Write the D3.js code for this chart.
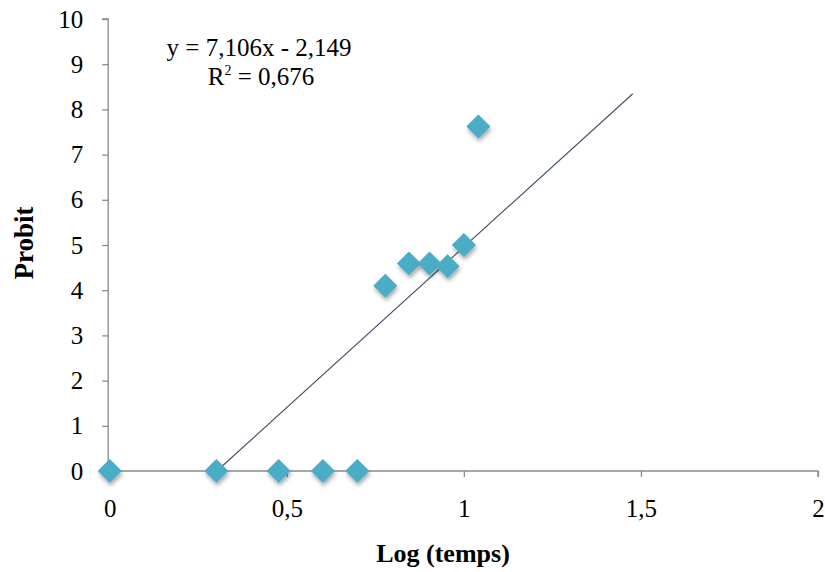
<!DOCTYPE html>
<html>
<head>
<meta charset="utf-8">
<script src="https://cdn.jsdelivr.net/npm/d3@7"></script>
<style>
  body { margin: 0; background: #fff; }
  svg text { font-family: "Liberation Serif", "DejaVu Serif", serif; }
</style>
</head>
<body>
<div id="chart"></div>
<script>
// log(time) and probit values
const logTemps = [0, 0.301, 0.477, 0.602, 0.699, 0.778, 0.845, 0.903, 0.954, 1.0, 1.041];
const probits = [0, 0, 0, 0, 0, 4.1, 4.59, 4.59, 4.53, 5.0, 7.62];
const xTicks = [0, 0.5, 1, 1.5, 2];
const yTicks = [0, 1, 2, 3, 4, 5, 6, 7, 8, 9, 10];
const slope = 7.106, intercept = -2.149;
const trendEnd = 1.477;

const svg = d3.select("#chart").append("svg").attr("width", 825).attr("height", 572);
const margin = { top: 19, right: 7, bottom: 101, left: 109.7 };
const width = 825 - margin.left - margin.right;
const height = 572 - margin.top - margin.bottom;

const x = d3.scaleLinear().domain([0, 2]).range([0, width]);
const y = d3.scaleLinear().domain([0, 10]).range([height, 0]);

const g = svg.append("g").attr("transform", `translate(${margin.left},${margin.top})`);

const fmt = d => String(d).replace(".", ",");

const yAxis = g.append("g").attr("transform", "translate(-1.5,0)")
    .call(d3.axisLeft(y).tickValues(yTicks).tickSize(6).tickPadding(19).tickFormat(fmt));
const xAxis = g.append("g").attr("transform", `translate(0,${height})`)
    .call(d3.axisBottom(x).tickValues(xTicks).tickSize(6).tickPadding(22).tickFormat(fmt));

[yAxis, xAxis].forEach(a => {
  a.attr("font-family", null);
  a.selectAll("path, line").attr("stroke", "#8c8c8c").attr("stroke-width", 1.3);
  a.selectAll("text").attr("font-size", 25).attr("fill", "#000");
});
xAxis.select(".domain").attr("d", `M0,6V0H${width}V6`);
yAxis.select(".domain").attr("d", `M-6,0H0V${height}`);

// trend line
const x0 = -intercept / slope;
g.append("line")
    .attr("x1", x(x0)).attr("y1", y(slope * x0 + intercept))
    .attr("x2", x(trendEnd)).attr("y2", y(slope * trendEnd + intercept))
    .attr("stroke", "#3d4c63").attr("stroke-width", 1.1);

// shadow filter
const defs = svg.append("defs");
const f = defs.append("filter").attr("id", "shadow").attr("x", "-50%").attr("y", "-50%").attr("width", "200%").attr("height", "200%");
f.append("feGaussianBlur").attr("in", "SourceAlpha").attr("stdDeviation", 2);
f.append("feOffset").attr("dx", 1).attr("dy", 3).attr("result", "b");
f.append("feComponentTransfer").append("feFuncA").attr("type", "linear").attr("slope", 0.35);
const m = f.append("feMerge");
m.append("feMergeNode");
m.append("feMergeNode").attr("in", "SourceGraphic");

const pts = logTemps.map((v, i) => ({ x: v, y: probits[i] }));
const r = 12;
g.selectAll(".pt")
    .data(pts)
    .enter()
    .append("path")
    .attr("class", "pt")
    .attr("d", d => `M${x(d.x)},${y(d.y) - r}L${x(d.x) + r},${y(d.y)}L${x(d.x)},${y(d.y) + r}L${x(d.x) - r},${y(d.y)}Z`)
    .attr("fill", "#4bacc6")
    .attr("filter", "url(#shadow)");

// equation
svg.append("text").attr("x", 259).attr("y", 56).attr("text-anchor", "middle")
    .attr("font-size", 25).text("y = 7,106x - 2,149");
const r2 = svg.append("text").attr("x", 261).attr("y", 85).attr("text-anchor", "middle")
    .attr("font-size", 25);
r2.append("tspan").text("R");
r2.append("tspan").attr("font-size", 14).attr("dy", -10).text("2");
r2.append("tspan").attr("dy", 10).text(" = 0,676");

// axis titles
svg.append("text").attr("x", 443).attr("y", 562).attr("text-anchor", "middle")
    .attr("font-size", 26).attr("font-weight", "bold").text("Log (temps)");
svg.append("text").attr("transform", "translate(33,243) rotate(-90)").attr("text-anchor", "middle")
    .attr("font-size", 27).attr("font-weight", "bold").text("Probit");
</script>
</body>
</html>
